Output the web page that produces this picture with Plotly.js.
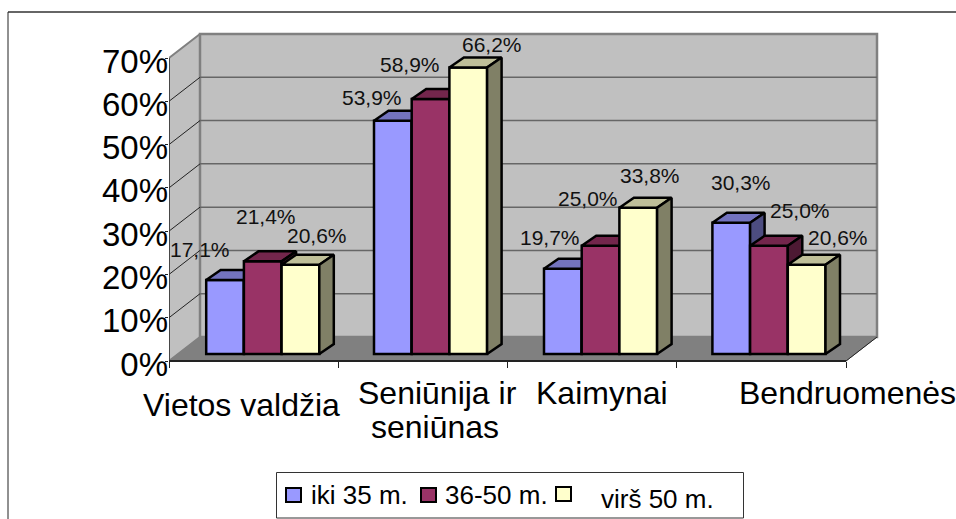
<!DOCTYPE html>
<html><head><meta charset="utf-8">
<script src="https://cdn.plot.ly/plotly-3.0.1.min.js"></script>
<style>html,body{margin:0;padding:0;background:#fff}#c{width:956px;height:519px}</style>
</head><body><div id="c"></div>
<script>
var categories = ["Vietos valdžia", "Seniūnija ir", "seniūnas", "Kaimynai", "Bendruomenės"];
var seriesNames = ["iki 35 m.", "36-50 m.", "virš 50 m."];
var iki35 = [17.1, 53.9, 19.7, 30.3];
var m36_50 = [21.4, 58.9, 25.0, 25.0];
var virs50 = [20.6, 66.2, 33.8, 20.6];
var yTicks = [0, 10, 20, 30, 40, 50, 60, 70];

// styles
var front = ["#9999FF", "#993366", "#FFFFCC"];
var topc = ["#7373BF", "#73264C", "#BFBF99"];
var side = ["#4D4D80", "#4D1933", "#808066"];
var FONT = "Liberation Sans, Arial, sans-serif";

// layout geometry (pixels): plot frame is large enough to hold the depth offset.
// ZERO is the pixel row of value 0 on the front plane, B the bottom of the frame.
var W = 956, H = 519, L = 169, R = 890, T = 20, ZERO = 361, B = 371;
var pxX = 677 / 4, pxY = 303 / 70;
var xMax = (R - L) / pxX, yMax = (ZERO - T) / pxY, yMin = (ZERO - B) / pxY;
var wallDX = 31 / pxX, wallDY = 24 / pxY;
var barDX = 14.5 / pxX, barDY = 10 / pxY;
var baseY = 7 / pxY;
var barW = 37.7 / pxX;
var groupX = [37.2 / pxX, 205 / pxX, 375 / pxX, 543.4 / pxX];
var tickLabelDrop = 3 / pxY;

// label offsets from bar top centre (px)
var labelDX = [[-25, 3, 17], [-21, -21, 24], [-13, -13, 12], [10, 31, 31]];
var labelDY = [[-30, -45, -29], [-23, -35, -23], [-31, -47, -32], [-40, -35, -27]];

var traces = [];
function poly(xs, ys, fill, lineColor, lineWidth, ax) {
  traces.push({type: "scatter", mode: "lines", x: xs.concat(xs[0]), y: ys.concat(ys[0]),
    fill: "toself", fillcolor: fill, line: {color: lineColor, width: lineWidth},
    hoverinfo: "skip", showlegend: false, cliponaxis: false, xaxis: ax[0], yaxis: ax[1]});
}
function seg(xs, ys, color, width, ax) {
  traces.push({type: "scatter", mode: "lines", x: xs, y: ys, line: {color: color, width: width},
    hoverinfo: "skip", showlegend: false, cliponaxis: false, xaxis: ax[0], yaxis: ax[1]});
}

var main = ["x", "y"];
// side wall, back wall, floor
poly([0, wallDX, wallDX, 0], [0, wallDY, 70 + wallDY, 70], "#C0C0C0", "#808080", 2, main);
poly([wallDX, 4 + wallDX, 4 + wallDX, wallDX], [wallDY, wallDY, 70 + wallDY, 70 + wallDY], "#C0C0C0", "#808080", 2.5, main);
poly([0, 4, 4 + wallDX, wallDX], [0, 0, wallDY, wallDY], "#808080", "#808080", 1, main);
yTicks.forEach(function (t) {
  if (t > 0 && t < 70) seg([wallDX, 4 + wallDX], [t + wallDY, t + wallDY], "#666666", 1.5, main);
  if (t > 0 && t < 70) seg([0, wallDX], [t, t + wallDY], "#222222", 1, main);
});
seg([4, 4 + wallDX], [0, wallDY], "#222222", 1, main);
seg([0, 0], [0, 70], "#333333", 1.5, main);
seg([0, 4], [0, 0], "#222222", 2, main);
// anchors the overlaid axis that carries the percent labels
seg([0], [0], "rgba(0,0,0,0)", 1, ["x", "y5"]);

var allSeries = [iki35, m36_50, virs50];
allSeries.forEach(function (vals, s) {
  var n = s + 2, ax = ["x" + n, "y" + n];
  var xc = groupX.map(function (g) { return g + barW * (s + 0.5); });
  traces.push({type: "bar", name: seriesNames[s], x: xc, y: vals,
    base: vals.map(function () { return baseY; }), width: barW,
    marker: {color: front[s], line: {color: "#000", width: 2.5}},
    hoverinfo: "skip", showlegend: false, cliponaxis: false, xaxis: ax[0], yaxis: ax[1]});
  vals.forEach(function (v, i) {
    var x0 = xc[i] - barW / 2, x1 = xc[i] + barW / 2, y1 = baseY + v, y0 = baseY;
    poly([x0, x1, x1 + barDX, x0 + barDX], [y1, y1, y1 + barDY, y1 + barDY], topc[s], "#000", 2.5, ax);
    poly([x1, x1 + barDX, x1 + barDX, x1], [y0, y0 + barDY, y1 + barDY, y1], side[s], "#000", 2.5, ax);
  });
});

var annotations = [];
function pageText(text, x, y, size, xanchor) {
  annotations.push({text: text, xref: "paper", yref: "paper", showarrow: false,
    x: (x - L) / (R - L), y: (B - y) / (B - T), xanchor: xanchor || "center", yanchor: "middle",
    align: "center", font: {family: FONT, size: size, color: "#000"}});
}
allSeries.forEach(function (vals, s) {
  vals.forEach(function (v, i) {
    annotations.push({text: v.toFixed(1).replace(".", ",") + "%", xref: "x", yref: "y",
      x: groupX[i] + barW * (s + 0.5), y: baseY + v, showarrow: false,
      xshift: labelDX[i][s], yshift: -labelDY[i][s], xanchor: "center", yanchor: "middle",
      font: {family: FONT, size: 21, color: "#111"}});
  });
});
pageText(categories[0], 241, 405, 32);
pageText(categories[1], 437, 393, 32);
pageText(categories[2], 435, 427, 32);
pageText(categories[3], 602, 393, 32);
pageText(categories[4], 847, 393, 32);
pageText(seriesNames[0], 309, 494.5, 26, "left");
pageText(seriesNames[1], 443, 494.5, 26, "left");
pageText(seriesNames[2], 599, 499, 26, "left");

function pageRect(x0, y0, x1, y1, fill, lw, col) {
  return {type: "rect", xref: "paper", yref: "paper",
    x0: (x0 - L) / (R - L), x1: (x1 - L) / (R - L), y0: (B - y0) / (B - T), y1: (B - y1) / (B - T),
    fillcolor: fill, line: {color: col, width: lw}, layer: "above"};
}
function pageLine(x0, y0, x1, y1, w, col) {
  return {type: "line", xref: "paper", yref: "paper",
    x0: (x0 - L) / (R - L), x1: (x1 - L) / (R - L), y0: (B - y0) / (B - T), y1: (B - y1) / (B - T),
    line: {color: col, width: w}, layer: "above"};
}
var shapes = [
  pageRect(276.5, 472.5, 743.5, 518, "#fff", 1, "#333"),
  pageRect(286, 488, 301, 502, front[0], 2, "#000"),
  pageRect(421, 488, 436, 502, front[1], 2, "#000"),
  pageRect(556, 487, 571, 501, front[2], 2, "#000"),
  pageLine(8, 12, 956, 12, 1.5, "#333"),
  pageLine(8, 12, 8, 519, 1, "#222")
];

function hiddenAxis(over, range) {
  return {overlaying: over, range: range, visible: false, fixedrange: true};
}
var layout = {
  width: W, height: H, autosize: false, showlegend: false,
  margin: {l: L, r: W - R, t: T, b: H - B, pad: 0},
  paper_bgcolor: "#fff", plot_bgcolor: "rgba(0,0,0,0)",
  barmode: "overlay",
  font: {family: FONT, color: "#000"},
  xaxis: {range: [0, xMax], tickvals: [0, 1, 2, 3, 4], ticktext: ["", "", "", "", ""], ticks: "outside", ticklen: 6,
    tickcolor: "#222", tickwidth: 1, showgrid: false, zeroline: false, showline: false, fixedrange: true,
    anchor: "free", position: (B - ZERO) / (B - T)},
  yaxis: {range: [yMin, yMax], tickvals: yTicks, showticklabels: false,
    ticks: "outside", ticklen: 3, tickcolor: "#222", tickwidth: 1, showgrid: false, zeroline: false,
    showline: false, fixedrange: true},
  yaxis5: {overlaying: "y", side: "left", range: [yMin + tickLabelDrop, yMax + tickLabelDrop], tickvals: yTicks,
    ticktext: yTicks.map(function (t) { return t + "%"; }), ticks: "", showgrid: false, zeroline: false,
    showline: false, fixedrange: true, tickfont: {family: FONT, size: 33, color: "#000"}, ticklabelstandoff: 0},
  annotations: annotations,
  shapes: shapes
};
[2, 3, 4].forEach(function (n) {
  layout["xaxis" + n] = hiddenAxis("x", [0, xMax]);
  layout["yaxis" + n] = hiddenAxis("y", [yMin, yMax]);
});
Plotly.newPlot("c", traces, layout, {staticPlot: true, displayModeBar: false});
</script>
</body></html>
